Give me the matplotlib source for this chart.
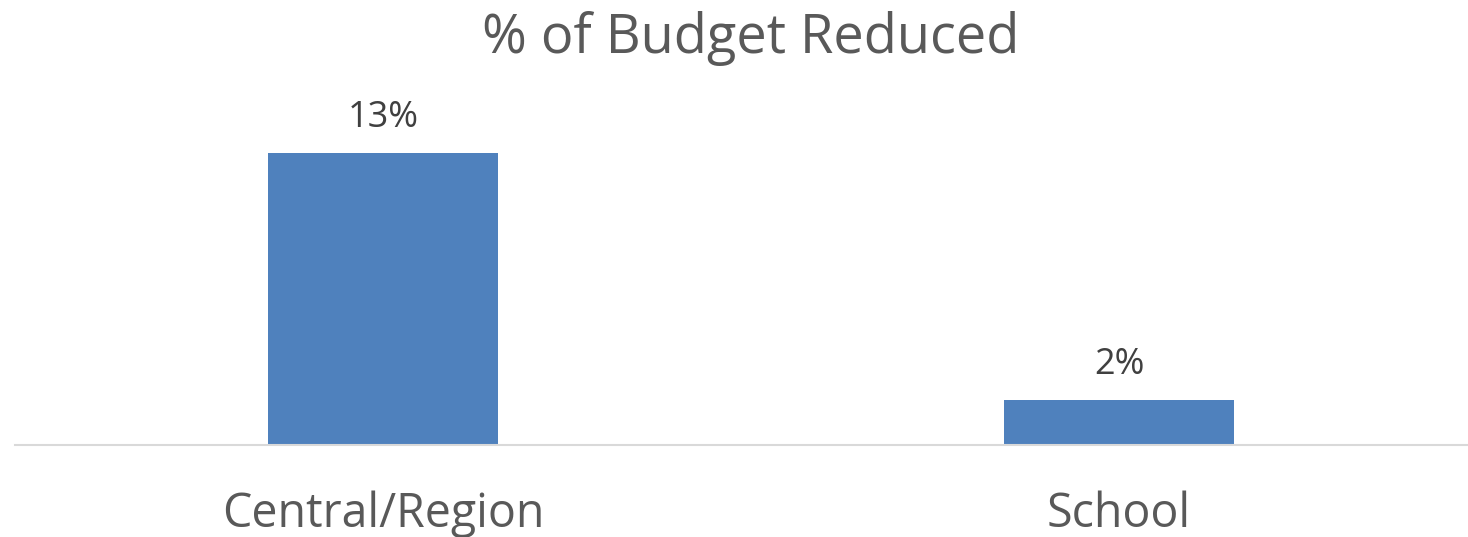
import matplotlib
matplotlib.use("Agg")
import matplotlib.pyplot as plt

categories = ["Central/Region", "School"]
values = [13, 2]
value_labels = ["13%", "2%"]

plt.rcParams['font.family'] = ['Open Sans', 'DejaVu Sans']
text_color = '#595959'

fig = plt.figure(figsize=(14.68, 5.37), dpi=100)
# axes spans a bit past the right edge, like the original layout
ax = fig.add_axes([15 / 1468, 92 / 537, 1472 / 1468, 337 / 537])
ax.set_xlim(-0.5, 1.5)
ax.set_ylim(0, 15)

bars = ax.bar(range(len(categories)), values, width=0.3125, color='#4F81BD')

for x, v, lab in zip(range(len(categories)), values, value_labels):
    ax.annotate(lab, (x, v), xytext=(0, 19), textcoords='offset points',
                ha='center', va='baseline', fontsize=26, color='#404040')

ax.set_xticks(range(len(categories)))
ax.set_xticklabels(categories, fontsize=33.5, color=text_color, va='baseline')
ax.tick_params(axis='x', length=0, pad=59)
ax.set_yticks([])
for side in ['top', 'right', 'left']:
    ax.spines[side].set_visible(False)
ax.spines['bottom'].set_color('#D9D9D9')
ax.spines['bottom'].set_linewidth(1.5)

fig.text(751 / 1468, 1 - 53 / 537, "% of Budget Reduced", ha='center', va='baseline',
         fontsize=39, color=text_color)

fig.savefig("out.png", dpi=100)
